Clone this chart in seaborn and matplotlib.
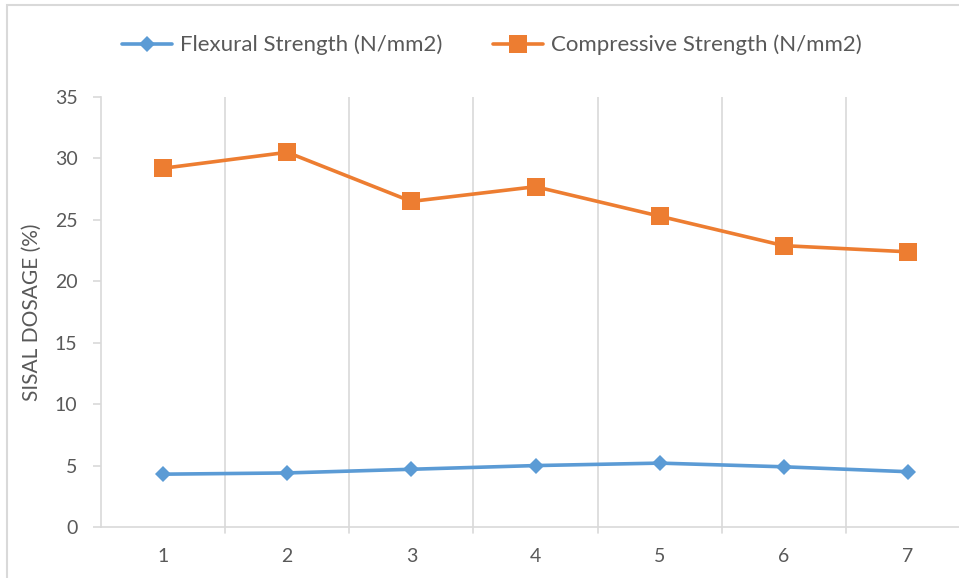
import matplotlib
matplotlib.use("Agg")
import matplotlib.pyplot as plt
from matplotlib.patches import Rectangle
from matplotlib.lines import Line2D
import seaborn as sns
import pandas as pd

# Data
categories = [1, 2, 3, 4, 5, 6, 7]
flexural = [4.3, 4.4, 4.7, 5.0, 5.2, 4.9, 4.5]
compressive = [29.2, 30.5, 26.5, 27.7, 25.3, 22.9, 22.4]
series_names = ["Flexural Strength (N/mm2)", "Compressive Strength (N/mm2)"]
y_ticks = [0, 5, 10, 15, 20, 25, 30, 35]
y_label = "SISAL DOSAGE (%)"

blue = "#5B9BD5"
orange = "#ED7D31"
grid_c = "#D9D9D9"
text_c = "#595959"

df = pd.DataFrame({
    "x": categories * 2,
    "value": flexural + compressive,
    "series": [series_names[0]] * 7 + [series_names[1]] * 7,
})

sns.set_theme(style="white")
plt.rcParams["font.family"] = ["Lato", "DejaVu Sans"]

W, H = 959, 578
fig = plt.figure(figsize=(W / 100, H / 100), dpi=100)

# outer chart border
fig.patches.append(Rectangle((7 / W, -0.1), 1.2, (578 - 5) / H + 0.1,
                             transform=fig.transFigure, fill=False,
                             edgecolor=grid_c, linewidth=1.5, zorder=0))

left, right = 101, 970
top, bottom = 97, 527
ax = fig.add_axes([left / W, (H - bottom) / H, (right - left) / W, (bottom - top) / H])

sns.lineplot(data=df, x="x", y="value", hue="series", style="series",
             palette={series_names[0]: blue, series_names[1]: orange},
             markers={series_names[0]: "D", series_names[1]: "s"},
             dashes=False, linewidth=2.6, markeredgewidth=0,
             ax=ax, legend=False, zorder=3)
for ln, ms in zip(ax.lines, [8.5, 12.5]):
    ln.set_markersize(ms)

ax.set_xlim(0.5, 7.5)
ax.set_ylim(0, 35)
ax.set_yticks(y_ticks)
ax.set_xticks(categories)
ax.set_xticklabels([str(c) for c in categories])

# vertical gridlines at category boundaries
for b in [1.5, 2.5, 3.5, 4.5, 5.5, 6.5]:
    ax.axvline(b, color=grid_c, linewidth=1.2, zorder=1)
    ax.plot([b, b], [0, -0.5], color=grid_c, linewidth=1.2, clip_on=False)

for s in ["top", "right"]:
    ax.spines[s].set_visible(False)
for s in ["left", "bottom"]:
    ax.spines[s].set_color(grid_c)
    ax.spines[s].set_linewidth(1.2)

ax.tick_params(axis="y", which="major", length=6, width=1.2, color=grid_c,
               left=True, labelsize=14, labelcolor=text_c, pad=11)
ax.tick_params(axis="x", which="major", length=0, labelsize=14,
               labelcolor=text_c, pad=15)
ax.set_xlabel("")
ax.set_ylabel(y_label, fontsize=15, color=text_c, labelpad=9)

handles = [
    Line2D([], [], color=blue, marker="D", markersize=8.5, linewidth=2.6, markeredgewidth=0),
    Line2D([], [], color=orange, marker="s", markersize=12.5, linewidth=2.6, markeredgewidth=0),
]
fig.legend(handles, series_names, loc="center", bbox_to_anchor=(492 / W, 1 - 45 / H),
           ncol=2, frameon=False, fontsize=16, labelcolor=text_c,
           handlelength=2.25, handletextpad=0.35, columnspacing=2.3)

fig.savefig("out.png", dpi=100, facecolor="white")
